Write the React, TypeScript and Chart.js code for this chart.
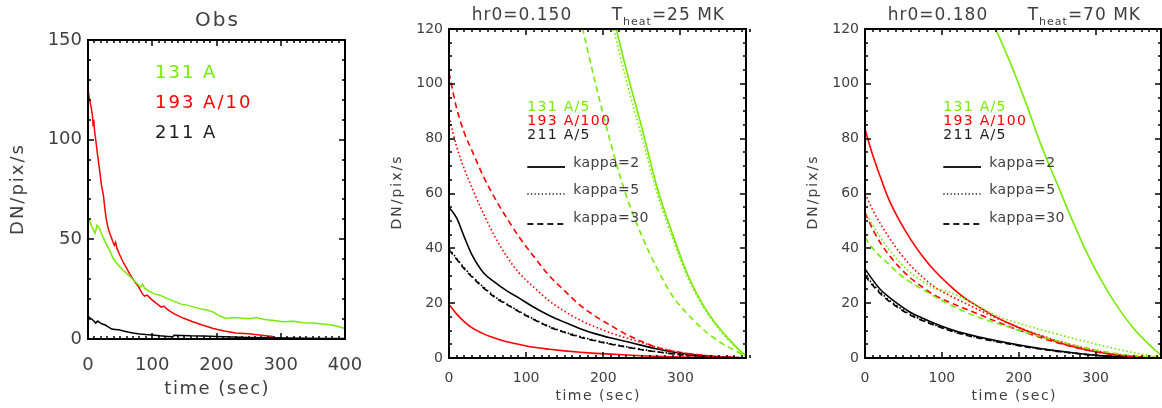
import { useEffect, useRef } from "react";
import { Chart, registerables } from "chart.js";

Chart.register(...registerables);

const CANVAS_W = 1162;
const CANVAS_H = 408;
const FONT = '"DejaVu Sans", "Liberation Sans", sans-serif';
const GREEN = "rgb(118,236,0)";
const RED = "rgb(255,0,0)";
const BLACK = "rgb(0,0,0)";
const TEXT = "rgb(64,64,64)";
const DARK = "rgb(30,30,30)";

// ---------------- Panel 1 : observations ----------------
const obsTime131 = [0, 4, 8, 11, 14, 18, 22, 27, 33, 39, 46, 53, 60, 68, 76, 82, 85, 88, 95, 104, 112, 122, 133, 145, 154, 165, 176, 185, 195, 205, 215, 226, 238, 250, 262, 275, 290, 304, 320, 335, 350, 365, 380, 392, 400];
const obs131 = [61, 58, 55, 53, 57, 55.5, 52, 48.5, 45, 40.5, 37.5, 35, 33, 30.5, 28, 26, 27.5, 25.5, 24, 22.5, 22, 20.5, 19, 17.5, 17, 16, 15, 14.5, 13.5, 11.5, 10.3, 10.8, 10.5, 10.2, 10.8, 9.8, 9.3, 8.7, 8.9, 8.2, 8, 7.5, 7, 6, 5.3];
const obsTime193 = [0, 2, 5, 7, 8, 9, 10, 12, 15, 18, 21, 24, 26, 28, 31, 35, 39, 41, 43, 45, 49, 54, 60, 66, 72, 79, 85, 88, 92, 100, 108, 114, 118, 125, 135, 148, 162, 178, 195, 212, 230, 250, 270, 288];
const obs193 = [125, 121, 116, 112, 107, 110, 105, 100, 92, 85, 77, 72, 66, 61, 56, 52, 48.5, 47, 48.5, 45.5, 42.5, 39, 35.5, 32, 29, 26, 22.5, 21.5, 22, 19.5, 17.5, 16, 16.5, 14.5, 12.5, 10.5, 8.8, 7, 5.3, 4, 3, 2.6, 1.9, 1.2];
const obsTime211 = [0, 3, 6, 9, 12, 15, 18, 22, 27, 32, 37, 42, 48, 55, 62, 70, 80, 90, 100, 112, 124, 132, 134, 145, 160, 180, 200, 225, 250, 280, 310, 340, 370, 400];
const obs211 = [11.5, 10.5, 10, 9, 8, 9, 8.3, 7.5, 7, 6, 5, 4.8, 4.6, 4, 3.5, 3, 2.5, 2.2, 2, 1.6, 1.3, 1.1, 1.9, 1.8, 1.6, 1.5, 1.3, 1, 0.8, 0.6, 0.5, 0.4, 0.3, 0.3];

// ---------------- Model time grid (panels 2 & 3) ----------------
const modelTime = [0, 10, 20, 30, 45, 60, 75, 90, 110, 130, 150, 170, 190, 210, 230, 250, 270, 290, 310, 330, 350, 370, 385];

// Panel 2 : hr0=0.150, Theat=25 MK
const p2_131_k2 = [null, null, null, null, null, null, null, null, null, null, null, null, null, 128, 105, 84, 62, 45, 30, 19, 11, 4.7, 0.6];
const p2_131_k5 = [null, null, null, null, null, null, null, null, null, null, null, null, null, 124, 101, 80.5, 60, 43.5, 29, 18.5, 10.5, 4.4, 0.6];
const p2_131_k30 = [null, null, null, null, null, null, null, null, null, null, null, 124, 100, 78, 59, 44.5, 32.5, 22.5, 15.8, 10.3, 6, 2.8, 0.5];
const p2_193_k2 = [19.5, 16, 13.2, 11, 8.8, 7.2, 5.9, 5, 3.9, 3.2, 2.6, 2.1, 1.7, 1.4, 1.1, 0.8, 0.6, 0.4, 0.3, 0.2, 0.1, 0.05, 0];
const p2_193_k5 = [88, 77, 68.8, 62, 52.5, 44, 37, 31.3, 25.8, 20.8, 17, 13.8, 11.3, 9.1, 7.3, 5.6, 3.9, 2.6, 1.6, 1, 0.5, 0.2, 0];
const p2_193_k30 = [104, 91, 82, 75.5, 66, 58, 51, 44.5, 37, 30, 24.5, 19.2, 15.2, 11.8, 8.6, 6, 3.8, 2.5, 1.6, 1, 0.5, 0.2, 0];
const p2_211_k2 = [55, 51, 44, 37.5, 31, 27.5, 24.5, 22, 18.5, 15.5, 13, 10.7, 8.8, 7.3, 6, 4.6, 3.3, 2.2, 1.4, 0.8, 0.4, 0.15, 0];
const p2_211_k5 = [39.8, 36.3, 32.8, 29.8, 25.8, 22.3, 19.7, 17.2, 14.2, 11.5, 9.5, 7.8, 6.4, 5.2, 4.1, 3.1, 2.3, 1.6, 1.05, 0.65, 0.32, 0.12, 0];
const p2_211_k30 = [39.5, 36, 32.5, 29.5, 25.5, 22, 19.5, 17, 14, 11.3, 9.3, 7.6, 6.2, 5, 4, 3, 2.2, 1.5, 1, 0.6, 0.3, 0.1, 0];

// Panel 3 : hr0=0.180, Theat=70 MK
const p3_131_k2 = [null, null, null, null, null, null, null, null, null, null, 133, 120, 107, 92.5, 77, 63.5, 50, 37.5, 27, 18, 10.6, 4.8, 1];
const p3_131_k5 = [53.5, 48.5, 44, 40, 35, 31, 28, 25.5, 24, 21.5, 18.5, 15.5, 13.5, 11.8, 10.2, 8.7, 7.2, 5.8, 4.4, 3.1, 1.9, 0.9, 0.2];
const p3_131_k30 = [44, 40, 37, 34.5, 30.5, 27.5, 25, 22.5, 19.5, 16.8, 14.6, 12.8, 11, 9.3, 7.7, 6.2, 4.8, 3.5, 2.4, 1.5, 0.8, 0.3, 0];
const p3_193_k2 = [83.5, 74, 66, 58.5, 50, 43, 37, 32, 26.5, 21.8, 18.3, 15, 12.3, 9.9, 7.8, 5.8, 4.2, 2.8, 1.8, 1, 0.5, 0.2, 0];
const p3_193_k5 = [60, 54, 49, 44.5, 38.5, 33.5, 29.5, 26, 22.8, 20, 17.3, 14.7, 12.3, 10.1, 8.1, 6.3, 4.7, 3.3, 2.1, 1.2, 0.6, 0.2, 0];
const p3_193_k30 = [53, 47, 42, 38, 33, 29, 25.8, 23, 20.3, 18, 15.7, 13.4, 11.2, 9.2, 7.3, 5.6, 4.1, 2.8, 1.8, 1, 0.5, 0.2, 0];
const p3_211_k2 = [32.5, 28.5, 25, 22.5, 19.3, 16.5, 14.5, 12.7, 10.6, 8.9, 7.6, 6.4, 5.3, 4.3, 3.4, 2.6, 1.9, 1.3, 0.8, 0.5, 0.25, 0.1, 0];
const p3_211_k5 = [30.5, 27, 24, 21.4, 18.4, 15.8, 13.9, 12.2, 10.2, 8.6, 7.3, 6.1, 5.1, 4.1, 3.3, 2.5, 1.85, 1.25, 0.78, 0.47, 0.22, 0.09, 0];
const p3_211_k30 = [30, 26.5, 23.5, 21, 18, 15.5, 13.6, 12, 10, 8.4, 7.1, 6, 5, 4, 3.2, 2.4, 1.8, 1.2, 0.75, 0.45, 0.2, 0.08, 0];

// Axis ranges
const obsXMax = 400;
const obsYMax = 150;
const modelXMax = 385;
const modelYMax = 120;

const DOT = [1.6, 2.4];
const DASH = [6, 4];

function pts(t: number[], v: (number | null)[]) {
  return t.map((x, i) => ({ x, y: v[i] }));
}

function line(data: any[], color: string, dash: number[], width = 1.6, smooth = true) {
  return {
    data, borderColor: color, borderWidth: width, borderDash: dash, borderCapStyle: "butt",
    pointRadius: 0, fill: false, tension: 0,
    cubicInterpolationMode: smooth ? "monotone" : "default", spanGaps: false,
  };
}

type Run = { text: string; size: number; dy?: number };
type TextItem = { runs: Run[]; x: number; y: number; color: string; align?: "left" | "center"; rotate?: boolean; spacing: number };
type LegendLine = { x1: number; x2: number; y: number; dash: number[]; width: number; color: string };
type Deco = {
  xMax: number; yMax: number; xMajor: number; xMinor: number; yMajor: number; yMinor: number;
  majorLen: number; minorLen: number; lines: LegendLine[]; texts: TextItem[];
};

function drawText(ctx: CanvasRenderingContext2D, item: TextItem) {
  ctx.save();
  ctx.fillStyle = item.color;
  ctx.textBaseline = "middle";
  ctx.textAlign = "left";
  (ctx as any).letterSpacing = item.spacing + "px";
  let total = 0;
  for (const r of item.runs) {
    ctx.font = `${r.size}px ${FONT}`;
    total += ctx.measureText(r.text).width;
  }
  total -= item.spacing;
  ctx.translate(item.x, item.y);
  if (item.rotate) ctx.rotate(-Math.PI / 2);
  let x = item.align === "center" ? -total / 2 : 0;
  for (const r of item.runs) {
    ctx.font = `${r.size}px ${FONT}`;
    ctx.fillText(r.text, x, r.dy || 0);
    x += ctx.measureText(r.text).width;
  }
  ctx.restore();
}

function makeDecoPlugin(d: Deco) {
  return {
    id: "deco",
    afterDraw(chart: any) {
      const ctx: CanvasRenderingContext2D = chart.ctx;
      const a = chart.chartArea;
      const xs = chart.scales.x;
      const ys = chart.scales.y;
      ctx.save();
      ctx.setLineDash([]);
      ctx.globalAlpha = 1;
      ctx.globalCompositeOperation = "source-over";
      ctx.fillStyle = "#000";
      // inward tick marks on all four sides, placed through the chart's scales
      const nX = Math.round(d.xMax / d.xMinor);
      for (let i = 0; i <= nX; i++) {
        const v = i * d.xMinor;
        const major = Math.round(v) % d.xMajor === 0;
        const px = Math.round(xs.getPixelForValue(v));
        const len = major ? d.majorLen : d.minorLen;
        ctx.fillRect(px - 0.75, a.bottom - len, 1.5, len);
        ctx.fillRect(px - 0.75, a.top, 1.5, len);
      }
      const nY = Math.round(d.yMax / d.yMinor);
      for (let i = 0; i <= nY; i++) {
        const v = i * d.yMinor;
        const major = Math.round(v) % d.yMajor === 0;
        const py = Math.round(ys.getPixelForValue(v));
        const len = major ? d.majorLen : d.minorLen;
        ctx.fillRect(a.left, py - 0.75, len, 1.5);
        ctx.fillRect(a.right - len, py - 0.75, len, 1.5);
      }
      ctx.strokeStyle = "#000";
      ctx.lineWidth = 2;
      ctx.strokeRect(a.left, a.top, a.right - a.left, a.bottom - a.top);
      for (const l of d.lines) {
        ctx.save();
        ctx.strokeStyle = l.color;
        ctx.lineWidth = l.width;
        ctx.setLineDash(l.dash);
        ctx.beginPath();
        ctx.moveTo(l.x1, l.y);
        ctx.lineTo(l.x2, l.y);
        ctx.stroke();
        ctx.restore();
      }
      ctx.restore();
      for (const t of d.texts) drawText(ctx, t);
    },
  };
}

type PanelSpec = {
  area: { left: number; right: number; top: number; bottom: number };
  yAxisW: number; xAxisH: number; xMax: number; yMax: number; xStep: number; yStep: number;
  tickSize: number; xLabelPad: number; yLabelPad: number; datasets: any[]; deco: Deco;
};

function buildConfig(p: PanelSpec) {
  return {
    type: "line",
    data: { datasets: p.datasets },
    options: {
      animation: false,
      responsive: false,
      events: [],
      layout: {
        padding: {
          left: p.area.left - p.yAxisW,
          right: CANVAS_W - p.area.right,
          top: p.area.top,
          bottom: CANVAS_H - p.area.bottom - p.xAxisH,
        },
      },
      plugins: { legend: { display: false }, tooltip: { enabled: false }, title: { display: false } },
      scales: {
        x: {
          type: "linear", min: 0, max: p.xMax,
          grid: { display: false, drawTicks: false },
          border: { display: false },
          ticks: {
            stepSize: p.xStep, includeBounds: false, padding: p.xLabelPad, color: TEXT,
            font: { family: FONT, size: p.tickSize }, maxRotation: 0,
            callback: (v: number) => (Math.abs(v % p.xStep) < 1e-6 ? String(v) : ""),
          },
          afterFit: (s: any) => { s.height = p.xAxisH; },
        },
        y: {
          type: "linear", min: 0, max: p.yMax,
          grid: { display: false, drawTicks: false },
          border: { display: false },
          ticks: { stepSize: p.yStep, padding: p.yLabelPad, color: TEXT, font: { family: FONT, size: p.tickSize } },
          afterFit: (s: any) => { s.width = p.yAxisW; },
        },
      },
    },
    plugins: [makeDecoPlugin(p.deco)],
  };
}

function modelDeco(dx: number, hr: string, theat: string): Deco {
  const legendX = 527.3 + dx;
  const lineX2 = 565 + dx;
  const kX = 573.3 + dx;
  return {
    xMax: modelXMax, yMax: modelYMax, xMajor: 100, xMinor: 10, yMajor: 20, yMinor: 5, majorLen: 6, minorLen: 3,
    lines: [
      { x1: legendX, x2: lineX2, y: 167, dash: [], width: 2, color: DARK },
      { x1: legendX, x2: lineX2, y: 194, dash: [1.3, 2.3], width: 1.3, color: DARK },
      { x1: legendX, x2: lineX2, y: 224, dash: [6, 4], width: 2, color: DARK },
    ],
    texts: [
      { runs: [{ text: hr, size: 17 }], x: 471.7 + dx, y: 16, color: TEXT, spacing: 1 },
      { runs: [{ text: "T", size: 17 }, { text: "heat", size: 11, dy: 6 }, { text: "=" + theat + " MK", size: 17 }], x: 611.7 + dx, y: 16, color: TEXT, spacing: 1 },
      { runs: [{ text: "DN/pix/s", size: 14 }], x: 397 + dx, y: 193, color: TEXT, align: "center", rotate: true, spacing: 2 },
      { runs: [{ text: "time (sec)", size: 14 }], x: 597.5 + dx, y: 396, color: TEXT, align: "center", spacing: 1.5 },
      { runs: [{ text: "131 A/5", size: 14 }], x: legendX, y: 107, color: GREEN, spacing: 1.3 },
      { runs: [{ text: "193 A/100", size: 14 }], x: legendX, y: 121, color: RED, spacing: 1.3 },
      { runs: [{ text: "211 A/5", size: 14 }], x: legendX, y: 135, color: DARK, spacing: 1.3 },
      { runs: [{ text: "kappa=2", size: 14 }], x: kX, y: 163, color: TEXT, spacing: 0.4 },
      { runs: [{ text: "kappa=5", size: 14 }], x: kX, y: 190, color: TEXT, spacing: 0.4 },
      { runs: [{ text: "kappa=30", size: 14 }], x: kX, y: 218, color: TEXT, spacing: 0.4 },
    ],
  };
}

const panel1: PanelSpec = {
  area: { left: 88, right: 345, top: 40, bottom: 339 },
  yAxisW: 60, xAxisH: 40, xMax: obsXMax, yMax: obsYMax, xStep: 100, yStep: 50,
  tickSize: 18, xLabelPad: 16, yLabelPad: 6,
  datasets: [
    line(pts(obsTime131, obs131), GREEN, [], 1.5, false),
    line(pts(obsTime193, obs193), RED, [], 1.5, false),
    line(pts(obsTime211, obs211), BLACK, [], 1.5, false),
  ],
  deco: {
    xMax: obsXMax, yMax: obsYMax, xMajor: 100, xMinor: 10, yMajor: 50, yMinor: 10, majorLen: 6, minorLen: 3,
    lines: [],
    texts: [
      { runs: [{ text: "Obs", size: 20 }], x: 216.5, y: 21, color: TEXT, align: "center", spacing: 2 },
      { runs: [{ text: "DN/pix/s", size: 18 }], x: 18, y: 190, color: TEXT, align: "center", rotate: true, spacing: 2 },
      { runs: [{ text: "time (sec)", size: 18 }], x: 216.5, y: 389, color: TEXT, align: "center", spacing: 1.5 },
      { runs: [{ text: "131 A", size: 18 }], x: 155, y: 73, color: GREEN, spacing: 2 },
      { runs: [{ text: "193 A/10", size: 18 }], x: 155, y: 103, color: RED, spacing: 2 },
      { runs: [{ text: "211 A", size: 18 }], x: 155, y: 133, color: DARK, spacing: 2 },
    ],
  },
};

const panel2: PanelSpec = {
  area: { left: 449, right: 746, top: 29, bottom: 358 },
  yAxisW: 50, xAxisH: 35, xMax: modelXMax, yMax: modelYMax, xStep: 100, yStep: 20,
  tickSize: 14, xLabelPad: 12, yLabelPad: 6,
  datasets: [
    line(pts(modelTime, p2_131_k2), GREEN, []),
    line(pts(modelTime, p2_131_k5), GREEN, DOT),
    line(pts(modelTime, p2_131_k30), GREEN, DASH),
    line(pts(modelTime, p2_193_k2), RED, []),
    line(pts(modelTime, p2_193_k5), RED, DOT),
    line(pts(modelTime, p2_193_k30), RED, DASH),
    line(pts(modelTime, p2_211_k2), BLACK, []),
    line(pts(modelTime, p2_211_k5), BLACK, DOT),
    line(pts(modelTime, p2_211_k30), BLACK, DASH),
  ],
  deco: modelDeco(0, "hr0=0.150", "25"),
};

const panel3: PanelSpec = {
  area: { left: 865, right: 1161, top: 29, bottom: 358 },
  yAxisW: 50, xAxisH: 35, xMax: modelXMax, yMax: modelYMax, xStep: 100, yStep: 20,
  tickSize: 14, xLabelPad: 12, yLabelPad: 6,
  datasets: [
    line(pts(modelTime, p3_131_k2), GREEN, []),
    line(pts(modelTime, p3_131_k5), GREEN, DOT),
    line(pts(modelTime, p3_131_k30), GREEN, DASH),
    line(pts(modelTime, p3_193_k2), RED, []),
    line(pts(modelTime, p3_193_k5), RED, DOT),
    line(pts(modelTime, p3_193_k30), RED, DASH),
    line(pts(modelTime, p3_211_k2), BLACK, []),
    line(pts(modelTime, p3_211_k5), BLACK, DOT),
    line(pts(modelTime, p3_211_k30), BLACK, DASH),
  ],
  deco: modelDeco(416, "hr0=0.180", "70"),
};

export default function App() {
  const r1 = useRef<HTMLCanvasElement>(null);
  const r2 = useRef<HTMLCanvasElement>(null);
  const r3 = useRef<HTMLCanvasElement>(null);

  useEffect(() => {
    const charts: Chart[] = [];
    const specs = [panel1, panel2, panel3];
    [r1, r2, r3].forEach((r, i) => {
      if (r.current) charts.push(new Chart(r.current, buildConfig(specs[i]) as any));
    });
    return () => charts.forEach((c) => c.destroy());
  }, []);

  const style: any = { position: "absolute", left: 0, top: 0, width: CANVAS_W, height: CANVAS_H };
  return (
    <div style={{ position: "absolute", left: 0, top: 0, width: CANVAS_W, height: CANVAS_H, background: "#fff", overflow: "hidden" }}>
      <canvas ref={r1} width={CANVAS_W} height={CANVAS_H} style={style} />
      <canvas ref={r2} width={CANVAS_W} height={CANVAS_H} style={style} />
      <canvas ref={r3} width={CANVAS_W} height={CANVAS_H} style={style} />
    </div>
  );
}
